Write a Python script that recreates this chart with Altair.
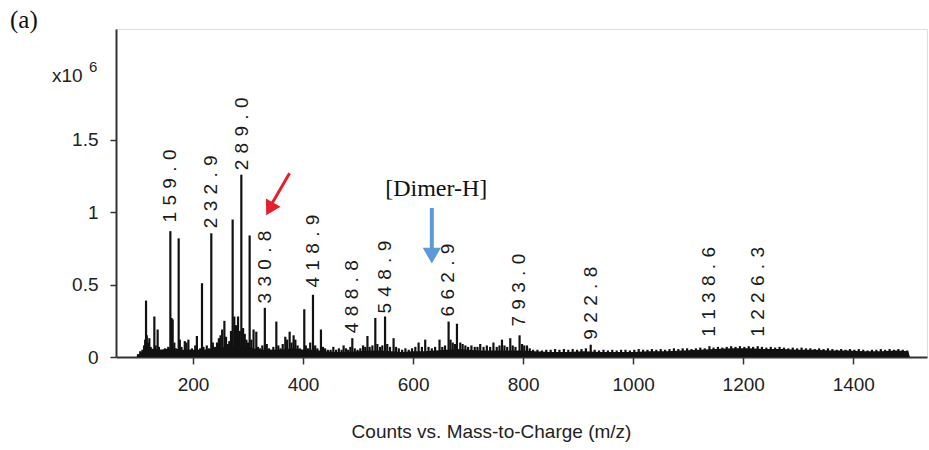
import altair as alt
import pandas as pd

# ---------------- data (m/z, intensity in units of 1e6 counts) ----------------
peak_mz = [
    100, 104, 108, 111, 113, 114.6, 116, 118, 120.6, 123, 126, 129.7, 132, 135.7, 138, 141, 145, 149, 152, 155,
    158.8, 161, 163, 166, 169, 173.9, 176, 179, 182, 185, 188, 191.6, 195, 198, 201, 204, 207, 210, 213, 216.3,
    219, 222, 225, 229, 233.2, 236, 240, 243.6, 247, 250, 253, 257, 260, 263, 266, 269, 272, 275, 278, 281.8,
    285, 287.8, 291, 294, 297, 300, 302.9, 306, 310, 315, 318, 322, 326, 330.5, 334, 338, 342, 346, 351.4, 355,
    359, 363, 367.7, 371, 375.6, 379, 382.8, 386, 390, 394, 398, 402.2, 405, 409, 413, 418, 422, 426, 432.5, 436,
    440, 445, 450, 455, 460, 465, 470, 473.7, 478, 482, 486, 489.5, 494, 499, 504, 509, 513, 517, 521, 526,
    531.3, 535, 540, 544, 549, 553, 558, 564.5, 569, 574, 580, 586, 592, 598, 604, 610, 616, 622, 628, 634,
    640, 648, 653, 658, 664.5, 668, 672, 676, 679.7, 685.7, 690, 695, 700, 706, 712, 717, 722, 728, 734, 740,
    746, 752, 757, 761.5, 766, 771, 776.6, 781, 786, 793.5, 798, 802, 807, 812, 818, 826, 834, 842, 850, 858,
    866, 874, 882, 890, 898, 906, 914, 922.8, 930, 938, 946, 954, 962, 970, 978, 986, 994, 1002, 1010, 1018,
    1026, 1034, 1042, 1050, 1058, 1066, 1074, 1082, 1090, 1098, 1106, 1114, 1122, 1130, 1138.6, 1146, 1154, 1162, 1170, 1178,
    1186, 1194, 1202, 1210, 1218, 1226.3, 1234, 1242, 1250, 1258, 1266, 1274, 1282, 1290, 1298, 1306, 1314, 1322, 1330, 1338,
    1346, 1354, 1362, 1370, 1378, 1386, 1394, 1402, 1410, 1418, 1426, 1434, 1442, 1450, 1458, 1466, 1474, 1482, 1490, 1498,
]
peak_int = [
    0.02, 0.04, 0.05, 0.08, 0.12, 0.39, 0.15, 0.10, 0.13, 0.07, 0.05, 0.28, 0.08, 0.19, 0.07, 0.05, 0.04, 0.06, 0.05, 0.07,
    0.87, 0.27, 0.26, 0.10, 0.06, 0.82, 0.12, 0.07, 0.04, 0.11, 0.10, 0.12, 0.05, 0.06, 0.04, 0.08, 0.145, 0.05, 0.06, 0.51,
    0.07, 0.05, 0.08, 0.06, 0.855, 0.10, 0.07, 0.10, 0.13, 0.15, 0.19, 0.25, 0.14, 0.09, 0.11, 0.18, 0.95, 0.28, 0.22, 0.28,
    0.18, 1.26, 0.20, 0.16, 0.12, 0.10, 0.84, 0.12, 0.19, 0.175, 0.07, 0.06, 0.08, 0.34, 0.09, 0.06, 0.05, 0.07, 0.245, 0.08,
    0.06, 0.09, 0.14, 0.12, 0.175, 0.10, 0.15, 0.12, 0.08, 0.06, 0.05, 0.33, 0.08, 0.06, 0.10, 0.43, 0.08, 0.06, 0.19, 0.07,
    0.06, 0.05, 0.05, 0.07, 0.05, 0.06, 0.05, 0.08, 0.06, 0.05, 0.07, 0.13, 0.06, 0.05, 0.06, 0.08, 0.07, 0.145, 0.07, 0.08,
    0.27, 0.09, 0.07, 0.08, 0.28, 0.09, 0.07, 0.13, 0.07, 0.06, 0.05, 0.06, 0.05, 0.06, 0.07, 0.10, 0.07, 0.12, 0.07, 0.06,
    0.07, 0.12, 0.07, 0.08, 0.245, 0.12, 0.10, 0.09, 0.23, 0.10, 0.09, 0.08, 0.07, 0.08, 0.07, 0.07, 0.09, 0.07, 0.08, 0.07,
    0.10, 0.07, 0.08, 0.12, 0.08, 0.07, 0.13, 0.08, 0.07, 0.15, 0.09, 0.08, 0.08, 0.06, 0.05, 0.05, 0.045, 0.05, 0.05, 0.055,
    0.05, 0.055, 0.05, 0.055, 0.05, 0.055, 0.06, 0.085, 0.05, 0.045, 0.05, 0.045, 0.05, 0.045, 0.05, 0.05, 0.045, 0.05, 0.055, 0.05,
    0.05, 0.055, 0.05, 0.055, 0.05, 0.055, 0.06, 0.055, 0.06, 0.06, 0.055, 0.06, 0.065, 0.06, 0.075, 0.065, 0.07, 0.065, 0.07, 0.075,
    0.07, 0.075, 0.07, 0.075, 0.07, 0.075, 0.07, 0.065, 0.07, 0.065, 0.07, 0.065, 0.06, 0.065, 0.06, 0.065, 0.06, 0.06, 0.055, 0.06,
    0.055, 0.06, 0.055, 0.05, 0.055, 0.05, 0.055, 0.05, 0.055, 0.05, 0.045, 0.05, 0.05, 0.055, 0.05, 0.055, 0.05, 0.055, 0.05, 0.045,
]

base_mz = [97, 100, 105, 110, 120, 140, 160, 180, 200, 220, 240, 260, 280, 300, 320, 340, 360, 380, 400, 420,
           440, 460, 480, 500, 520, 540, 560, 580, 600, 620, 640, 660, 680, 700, 720, 740, 760, 780, 800, 820,
           850, 880, 910, 940, 970, 1000, 1030, 1060, 1090, 1120, 1150, 1180, 1210, 1240, 1270, 1300, 1330, 1360,
           1390, 1420, 1450, 1480, 1500, 1503]
base_int = [0, 0.01, 0.03, 0.05, 0.06, 0.05, 0.06, 0.05, 0.05, 0.05, 0.06, 0.07, 0.08, 0.07, 0.05, 0.05, 0.05, 0.06, 0.05, 0.05,
            0.04, 0.035, 0.035, 0.04, 0.045, 0.045, 0.04, 0.035, 0.04, 0.04, 0.045, 0.05, 0.055, 0.05, 0.045, 0.045, 0.045, 0.045, 0.045, 0.04,
            0.035, 0.035, 0.04, 0.035, 0.035, 0.035, 0.04, 0.04, 0.045, 0.05, 0.055, 0.06, 0.06, 0.055, 0.055, 0.05, 0.05, 0.045,
            0.045, 0.04, 0.04, 0.045, 0.04, 0]

label_text = ["159.0", "232.9", "289.0", "330.8", "418.9", "488.8", "548.9", "662.9", "793.0", "922.8", "1138.6", "1226.3"]
label_base = [0.93, 0.89, 1.29, 0.37, 0.48, 0.165, 0.30, 0.28, 0.21, 0.12, 0.14, 0.14]

x_ticks = [200, 400, 600, 800, 1000, 1200, 1400]
y_ticks = [0, 0.5, 1, 1.5]

# annotation arrows (data units)
blue_shaft = {"x": [634], "y": [1.03], "y2": [0.74]}
blue_head = {"x": [634], "y": [0.70]}
red_shaft = {"x": [375.5], "y": [1.27], "x2": [344.0], "y2": [1.064]}
red_head = {"x": [339.4], "y": [1.023]}
dimer_label = {"x": [642], "y": [1.113], "t": ["[Dimer-H]"]}

SP = "\u2004"
labels_df = pd.DataFrame({
    "mz": [float(t) for t in label_text],
    "y": label_base,
    "t": [SP.join(list(t)) for t in label_text],
})

XDOM = [60, 1534]
YDOM = [0, 2.267]
AXFONT = "Liberation Sans Narrow, Liberation Sans, Arial"

xs = alt.Scale(domain=XDOM, nice=False, zero=False)
ys = alt.Scale(domain=YDOM, nice=False)

xaxis = alt.Axis(values=x_ticks, title="Counts vs. Mass-to-Charge (m/z)", grid=False, format="d",
                 domainColor="#333", domainWidth=2, tickColor="#333", tickWidth=1.5, tickSize=7,
                 labelFont=AXFONT, labelFontSize=19, labelColor="#222", labelPadding=11,
                 titleFont=AXFONT, titleFontSize=19, titleFontWeight="normal", titleColor="#222",
                 titleX=375, titleY=80, titleAlign="center", titleBaseline="alphabetic")
yaxis = alt.Axis(values=y_ticks, title=None, grid=False, format="~g",
                 domainColor="#333", domainWidth=2, tickColor="#333", tickWidth=1.5, tickSize=6,
                 labelFont=AXFONT, labelFontSize=19, labelColor="#222", labelPadding=12)

spec_df = pd.DataFrame({"mz": peak_mz, "i": peak_int})
base_df = pd.DataFrame({"mz": base_mz, "i": base_int})

base_area = alt.Chart(base_df).mark_area(color="#111", interpolate="linear").encode(
    x=alt.X("mz:Q", scale=xs, axis=xaxis),
    y=alt.Y("i:Q", scale=ys, axis=yaxis),
)

sticks = alt.Chart(spec_df).mark_rule(color="#111", strokeWidth=2.2).encode(
    x=alt.X("mz:Q", scale=xs),
    y=alt.Y("i:Q", scale=ys),
    y2=alt.datum(0),
)

peak_labels = alt.Chart(labels_df).mark_text(
    angle=270, align="left", baseline="middle", font="Liberation Sans", fontSize=19, color="#1a1a1a"
).encode(x=alt.X("mz:Q", scale=xs), y=alt.Y("y:Q", scale=ys), text="t:N")

bshaft = alt.Chart(pd.DataFrame(blue_shaft)).mark_rule(color="#5b9bd5", strokeWidth=4).encode(
    x=alt.X("x:Q", scale=xs), y=alt.Y("y:Q", scale=ys), y2="y2:Q")
bhead = alt.Chart(pd.DataFrame(blue_head)).mark_point(
    shape="triangle-down", filled=True, color="#5b9bd5", opacity=1, size=330).encode(
    x=alt.X("x:Q", scale=xs), y=alt.Y("y:Q", scale=ys))
rshaft = alt.Chart(pd.DataFrame(red_shaft)).mark_rule(color="#e3202c", strokeWidth=3).encode(
    x=alt.X("x:Q", scale=xs), y=alt.Y("y:Q", scale=ys), x2="x2:Q", y2="y2:Q")
rhead = alt.Chart(pd.DataFrame(red_head)).mark_point(
    shape="triangle-down", filled=True, color="#e3202c", opacity=1, size=280, angle=29).encode(
    x=alt.X("x:Q", scale=xs), y=alt.Y("y:Q", scale=ys))
dimer = alt.Chart(pd.DataFrame(dimer_label)).mark_text(
    font="Liberation Serif", fontSize=24, color="#111", align="center", baseline="alphabetic").encode(
    x=alt.X("x:Q", scale=xs), y=alt.Y("y:Q", scale=ys), text="t:N")

one = pd.DataFrame({"a": [0]})
panel_tag = alt.Chart(one).mark_text(font="Liberation Serif", fontSize=25, color="#111",
                                     align="left", baseline="alphabetic", text="(a)").encode(
    x=alt.value(-106), y=alt.value(-1))
mult = alt.Chart(one).mark_text(font=AXFONT, fontSize=19, color="#222",
                                align="left", baseline="alphabetic", text="x10").encode(
    x=alt.value(-64), y=alt.value(53))
mult_exp = alt.Chart(one).mark_text(font=AXFONT, fontSize=15, color="#222",
                                    align="left", baseline="alphabetic", text="6").encode(
    x=alt.value(-27), y=alt.value(43))

chart = alt.layer(base_area, sticks, peak_labels, bshaft, bhead, rshaft, rhead, dimer,
                  panel_tag, mult, mult_exp).properties(
    width=811, height=328,
    padding={"left": 116, "top": 29, "right": 2, "bottom": 93},
    autosize=alt.AutoSizeParams(type="none"),
).configure_view(stroke="#777", strokeWidth=1).configure(background="white")

chart.save("out.html", embed_options={"renderer": "svg", "actions": False})
